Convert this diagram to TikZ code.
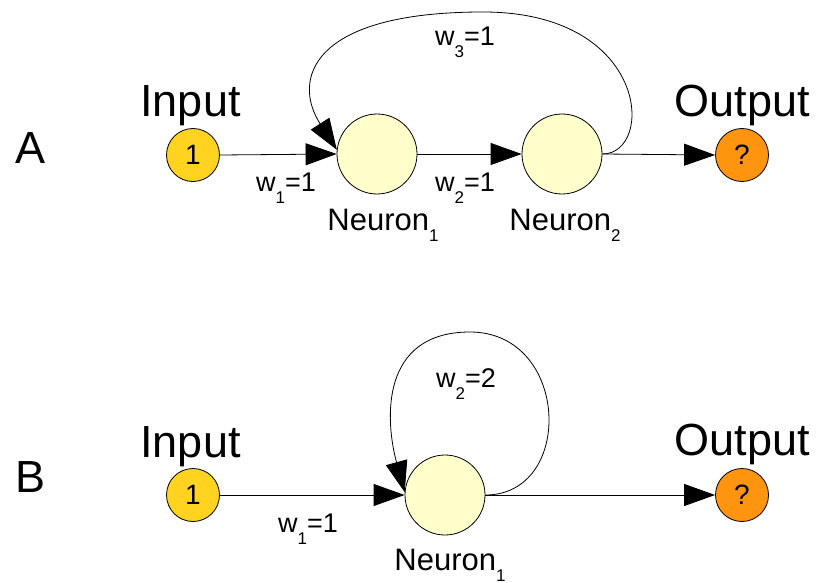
\documentclass[tikz,border=0pt]{standalone}
\usepackage{fontspec}
\setmainfont{Liberation Sans}
\usetikzlibrary{arrows.meta}
\definecolor{inyellow}{HTML}{FFD320}
\definecolor{outorange}{HTML}{FF950E}
\definecolor{neuroncol}{HTML}{FFFFCC}
\newcommand{\lowsub}[2]{\raisebox{-#2pt}{\fontsize{17}{17}\selectfont #1}}
\begin{document}
\begin{tikzpicture}[x=1pt,y=-1pt,
  innode/.style={circle,draw=black,line width=0.8pt,fill=inyellow,inner sep=0pt,minimum size=53pt,font=\fontsize{28}{30}\selectfont},
  outnode/.style={circle,draw=black,line width=0.8pt,fill=outorange,inner sep=0pt,minimum size=53pt,font=\fontsize{28}{30}\selectfont},
  neuron/.style={circle,draw=black,line width=0.8pt,fill=neuroncol,inner sep=0pt,minimum size=80pt},
  bigtxt/.style={anchor=base,inner sep=0pt,font=\fontsize{45}{50}\selectfont},
  wtxt/.style={anchor=base,inner sep=0pt,font=\fontsize{27}{29}\selectfont},
  ntxt/.style={anchor=base,inner sep=0pt,font=\fontsize{31}{33}\selectfont},
  conn/.style={line width=0.8pt,-{Triangle[length=31pt,width=22pt]}}]
\useasboundingbox (0,0) rectangle (819,583);
% ---------- A ----------
\node[bigtxt] (labA) at (31,163) {A};
\node[bigtxt] (inA) at (190.5,117) {Input};
\node[bigtxt] (outA) at (742,117) {Output};
\node[innode] (ia) at (193,155) {1};
\node[neuron] (n1a) at (377,154) {};
\node[neuron] (n2a) at (562,154) {};
\node[outnode] (oa) at (742,155) {?};
\draw[conn] (ia.east) -- (n1a.west);
\draw[conn] (n1a.east) -- (n2a.west);
\draw[conn] (n2a.east) -- (oa.west);
\draw[conn] (n2a.east) .. controls (655,154) and (650,12) .. (483,12)
  .. controls (310,12) and (292,80) .. (n1a.174);
\node[wtxt] (w1a) at (286,191) {w\lowsub{1}{12}=1};
\node[wtxt] (w2a) at (465,191) {w\lowsub{2}{12}=1};
\node[wtxt] (w3a) at (465,46) {w\lowsub{3}{12}=1};
\node[ntxt] (n1al) at (383,230) {Neuron\lowsub{1}{11}};
\node[ntxt] (n2al) at (565,230) {Neuron\lowsub{2}{11}};
% ---------- B ----------
\node[bigtxt] (labB) at (31,492) {B};
\node[bigtxt] (inB) at (190.5,457) {Input};
\node[bigtxt] (outB) at (742,455) {Output};
\node[innode] (ib) at (193,495) {1};
\node[neuron] (n1b) at (445,495) {};
\node[outnode] (ob) at (742,495) {?};
\draw[conn] (ib.east) -- (n1b.west);
\draw[conn] (n1b.east) -- (ob.west);
\draw[conn] (n1b.east) .. controls (575,495) and (570,332) .. (470,332)
  .. controls (380,332) and (385,420) .. (n1b.176);
\node[wtxt] (w1b) at (308,532) {w\lowsub{1}{12}=1};
\node[wtxt] (w2b) at (466,387) {w\lowsub{2}{12}=2};
\node[ntxt] (n1bl) at (450,570) {Neuron\lowsub{1}{11}};
\end{tikzpicture}
\end{document}
